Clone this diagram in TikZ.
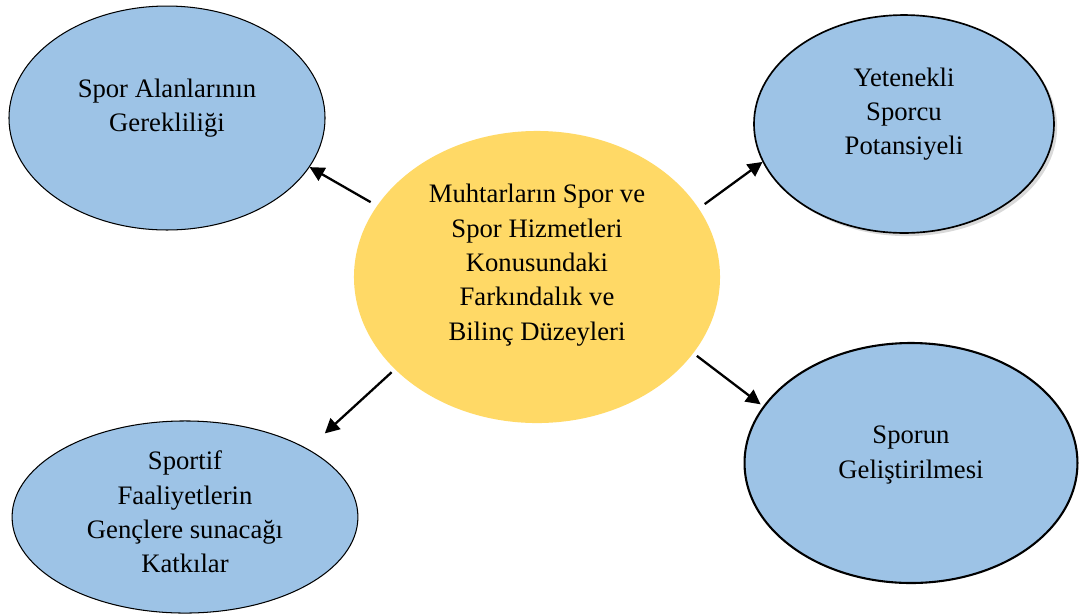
\documentclass[tikz,border=0pt]{standalone}
\usepackage{fontspec}
\setmainfont{Liberation Serif}
\usetikzlibrary{shapes.geometric, arrows.meta, shadows}
\definecolor{blueFill}{HTML}{9DC3E6}
\definecolor{yellowFill}{HTML}{FFD966}

\begin{document}
\begin{tikzpicture}[
    x=0.48pt, y=-0.48pt,
    bubble/.style={ellipse, draw, fill=blueFill, inner sep=0pt},
    core/.style={ellipse, fill=yellowFill, inner sep=0pt, minimum width=175.7pt, minimum height=140.2pt},
    txt/.style={align=center, font=\fontsize{12.8pt}{16.5pt}\selectfont},
    arrow/.style={-{Triangle[length=7pt, width=7pt]}, line width=1.1pt}
]
    \useasboundingbox (0,0) rectangle (1081,614);

    % Central node
    \node[core] (center) at (537,277) {};
    \node[txt] (centerT) at (537,265) {Muhtarların Spor ve\\Spor Hizmetleri\\Konusundaki\\Farkındalık ve\\Bilinç Düzeyleri};

    % Top left
    \node[bubble, line width=0.5pt, minimum width=151.7pt, minimum height=107.5pt] (areas) at (167,118) {};
    \node[txt] (areasT) at (167,108) {Spor Alanlarının\\Gerekliliği};

    % Top right (with shadow)
    \node[bubble, line width=0.8pt, minimum width=144pt, minimum height=104.6pt,
          drop shadow={shadow xshift=1.5pt, shadow yshift=-1.5pt, opacity=0.3}] (talent) at (904,124) {};
    \node[txt] (talentT) at (904,114) {Yetenekli\\Sporcu\\Potansiyeli};

    % Bottom left
    \node[bubble, line width=0.5pt, minimum width=166pt, minimum height=92.2pt] (youth) at (185,517) {};
    \node[txt] (youthT) at (185,512) {Sportif\\Faaliyetlerin\\Gençlere sunacağı\\Katkılar};

    % Bottom right
    \node[bubble, line width=1pt, minimum width=159.8pt, minimum height=115.2pt] (develop) at (911,463) {};
    \node[txt] (developT) at (911,455) {Sporun\\Geliştirilmesi};

    % Arrows
    \draw[arrow, shorten <=3.4pt] (center.156.8) -- (areas.341.3);
    \draw[arrow, shorten <=3.4pt] (center.23.4) -- (talent.195.7);
    \draw[arrow, shorten <=2pt, shorten >=11pt] (center.213.2) -- (youth.29.7);
    \draw[arrow, shorten <=2pt, shorten >=1.5pt] (center.334.5) -- (develop.159.2);
\end{tikzpicture}
\end{document}
